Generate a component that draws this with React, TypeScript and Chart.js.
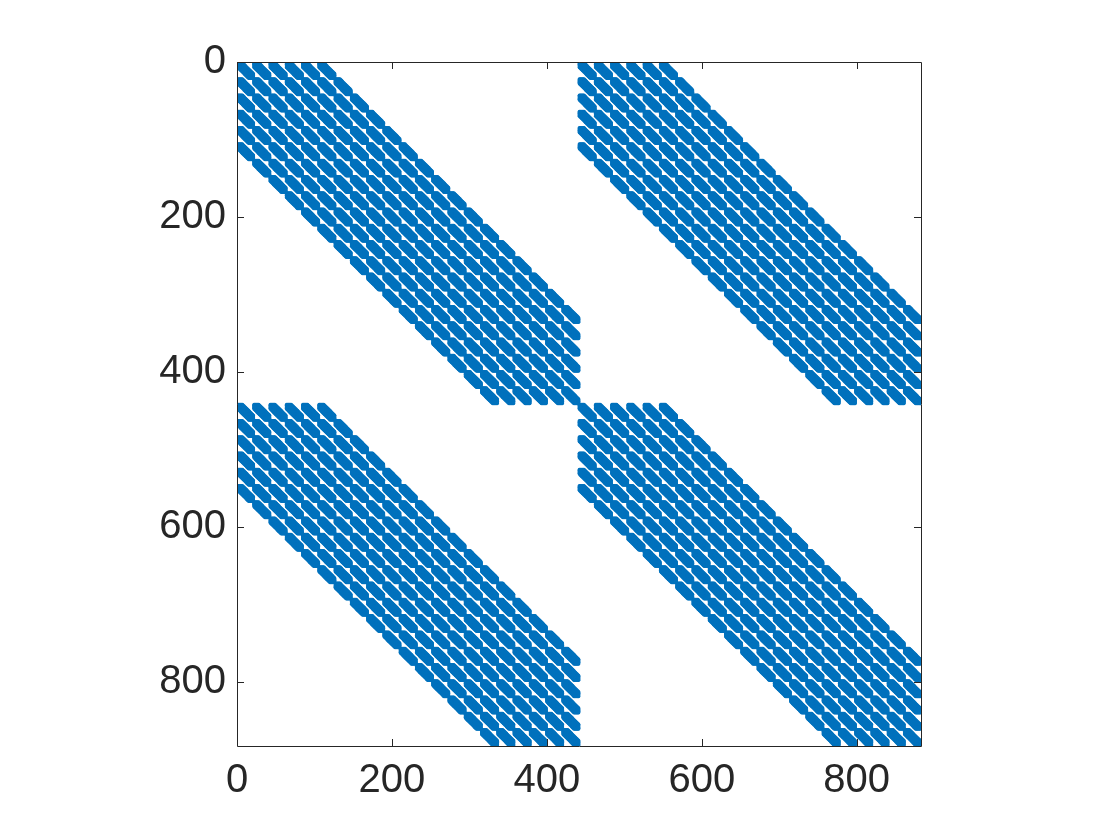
import React, { useEffect, useRef } from "react";
import { Chart, registerables } from "chart.js";

Chart.register(...registerables);

// Sparsity pattern (spy plot) description
const matrixSize = 882;
const axisMax = 883;
const blockStarts = [0, 441]; // 2 x 2 outer blocks
const subGridSize = 21; // each outer block = 21 x 21 sub-blocks of size 21
const outerBandOffsets = [-5, -4, -3, -2, -1, 0, 1, 2, 3, 4, 5];
const innerBandOffsets = [-6, -5, -4, -3, -2, -1, 0, 1, 2, 3, 4, 5, 6];
const tickValues = [0, 200, 400, 600, 800];

const spyColor = "#0072BD";
const textColor = "#262626";

function buildNonzeros() {
  const pts: { x: number; y: number }[] = [];
  for (const br of blockStarts) {
    for (const bc of blockStarts) {
      for (let I = 0; I < subGridSize; I++) {
        for (const dJ of outerBandOffsets) {
          const J = I + dJ;
          if (J < 0 || J >= subGridSize) continue;
          for (let i = 0; i < subGridSize; i++) {
            for (const dj of innerBandOffsets) {
              const j = i + dj;
              if (j < 0 || j >= subGridSize) continue;
              const row = br + I * subGridSize + i + 1;
              const col = bc + J * subGridSize + j + 1;
              if (row <= matrixSize && col <= matrixSize) pts.push({ x: col, y: row });
            }
          }
        }
      }
    }
  }
  return pts;
}

const axesBoxPlugin = {
  id: "axesBox",
  afterDatasetsDraw(chart: any) {
    const { ctx, chartArea, scales } = chart;
    const { left, right, top, bottom } = chartArea;
    const tl = 7;
    ctx.save();
    ctx.strokeStyle = textColor;
    ctx.lineWidth = 1;
    ctx.beginPath();
    ctx.rect(Math.round(left) + 0.5, Math.round(top) + 0.5, Math.round(right - left), Math.round(bottom - top));
    for (const v of tickValues) {
      const px = Math.round(scales.x.getPixelForValue(v)) + 0.5;
      ctx.moveTo(px, bottom);
      ctx.lineTo(px, bottom - tl);
      ctx.moveTo(px, top);
      ctx.lineTo(px, top + tl);
      const py = Math.round(scales.y.getPixelForValue(v)) + 0.5;
      ctx.moveTo(left, py);
      ctx.lineTo(left + tl, py);
      ctx.moveTo(right, py);
      ctx.lineTo(right - tl, py);
    }
    ctx.stroke();
    ctx.restore();
  },
};

export default function App() {
  const ref = useRef<HTMLCanvasElement>(null);
  useEffect(() => {
    if (!ref.current) return;
    const data = buildNonzeros();
    const tickFont = { family: "'Liberation Sans', Arial, Helvetica, sans-serif", size: 40 };
    const chart = new Chart(ref.current, {
      type: "scatter",
      data: {
        datasets: [
          {
            data,
            backgroundColor: spyColor,
            borderWidth: 0,
            pointRadius: 1.75,
            pointHoverRadius: 0,
            pointBorderWidth: 0,
          } as any,
        ],
      },
      options: {
        responsive: false,
        animation: false,
        parsing: false,
        normalized: true,
        devicePixelRatio: 1,
        events: [],
        layout: { padding: { left: 0, top: 62, right: 199, bottom: 0 } },
        plugins: { legend: { display: false }, tooltip: { enabled: false } },
        scales: {
          x: {
            type: "linear",
            position: "bottom",
            min: 0,
            max: axisMax,
            grid: { display: false, drawTicks: false },
            border: { display: false },
            ticks: { font: tickFont, color: textColor, padding: 11, maxRotation: 0, autoSkip: false },
            afterBuildTicks: (s: any) => {
              s.ticks = tickValues.map((v) => ({ value: v }));
            },
            afterFit: (s: any) => {
              s.height = 94;
            },
          },
          y: {
            type: "linear",
            reverse: true,
            min: 0,
            max: axisMax,
            grid: { display: false, drawTicks: false },
            border: { display: false },
            ticks: { font: tickFont, color: textColor, padding: 11, autoSkip: false },
            afterBuildTicks: (s: any) => {
              s.ticks = tickValues.map((v) => ({ value: v }));
            },
            afterFit: (s: any) => {
              s.width = 237;
            },
          },
        },
      } as any,
      plugins: [axesBoxPlugin],
    });
    return () => chart.destroy();
  }, []);
  return (
    <div style={{ position: "fixed", left: 0, top: 0, width: 1120, height: 840, background: "#fff" }}>
      <canvas ref={ref} width={1120} height={840} style={{ display: "block" }} />
    </div>
  );
}
